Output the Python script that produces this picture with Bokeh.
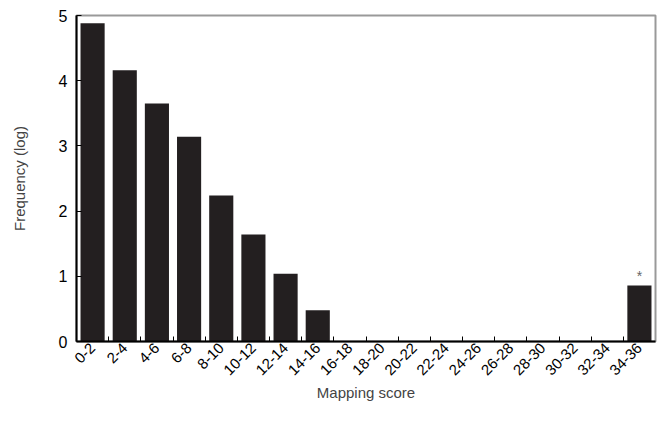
import numpy as np
from math import pi
from bokeh.plotting import figure
from bokeh.models import FixedTicker, Range1d
from bokeh.core.properties import value
from bokeh.embed import file_html
from bokeh.resources import INLINE

categories = ["0-2", "2-4", "4-6", "6-8", "8-10", "10-12", "12-14", "14-16", "16-18",
              "18-20", "20-22", "22-24", "24-26", "26-28", "28-30", "30-32", "32-34", "34-36"]
freq_log = [4.88, 4.16, 3.65, 3.14, 2.24, 1.64, 1.04, 0.48, 0, 0, 0, 0, 0, 0, 0, 0, 0, 0.86]
marked = ["34-36"]

n = len(categories)
centers = [i + 0.5 for i in range(n)]
bounds = [i for i in range(1, n)]

FONT = "Liberation Sans"

p = figure(width=658, height=427, output_backend="svg", toolbar_location=None,
           x_range=Range1d(0, n), y_range=Range1d(0, 5),
           min_border_left=76, min_border_right=3, min_border_top=15, min_border_bottom=86)

p.vbar(x=centers, top=freq_log, width=0.75, fill_color="#231f20", line_color=None)

mx = [centers[categories.index(c)] for c in marked]
my = [freq_log[categories.index(c)] for c in marked]
p.text(x=mx, y=my, text=["*"] * len(mx), text_align="center", text_baseline="bottom",
       y_offset=-1, text_color="#666666", text_font_size="14px", text_font=value(FONT))

p.xgrid.visible = False
p.ygrid.visible = False
p.outline_line_color = "#999999"
p.outline_line_width = 2
p.outline_line_alpha = 1.0

xa = p.xaxis[0]
xa.ticker = FixedTicker(ticks=centers, minor_ticks=bounds)
xa.major_label_overrides = {c: lab for c, lab in zip(centers, categories)}
xa.major_label_orientation = pi / 4
xa.major_tick_in = 0
xa.major_tick_out = 0
xa.minor_tick_in = 5
xa.minor_tick_out = 0
xa.minor_tick_line_color = "black"
xa.axis_line_color = "black"
xa.axis_line_width = 2
xa.major_label_text_font = FONT
xa.major_label_text_font_size = "15px"
xa.major_label_text_color = "black"
xa.major_label_standoff = 4
xa.axis_label = "Mapping score"
xa.axis_label_text_font = FONT
xa.axis_label_text_font_size = "15px"
xa.axis_label_text_font_style = "normal"
xa.axis_label_standoff = 1

ya = p.yaxis[0]
ya.ticker = FixedTicker(ticks=[0, 1, 2, 3, 4, 5])
ya.major_tick_in = 5
ya.major_tick_out = 0
ya.minor_tick_line_color = None
ya.axis_line_color = "black"
ya.axis_line_width = 2
ya.major_label_text_font = FONT
ya.major_label_text_font_size = "16px"
ya.major_label_text_color = "black"
ya.major_label_standoff = 9
ya.axis_label = "Frequency (log)"
ya.axis_label_text_font = FONT
ya.axis_label_text_font_size = "15px"
ya.axis_label_text_font_style = "normal"
ya.axis_label_standoff = 28

open("out.html", "w").write(file_html(p, INLINE))
